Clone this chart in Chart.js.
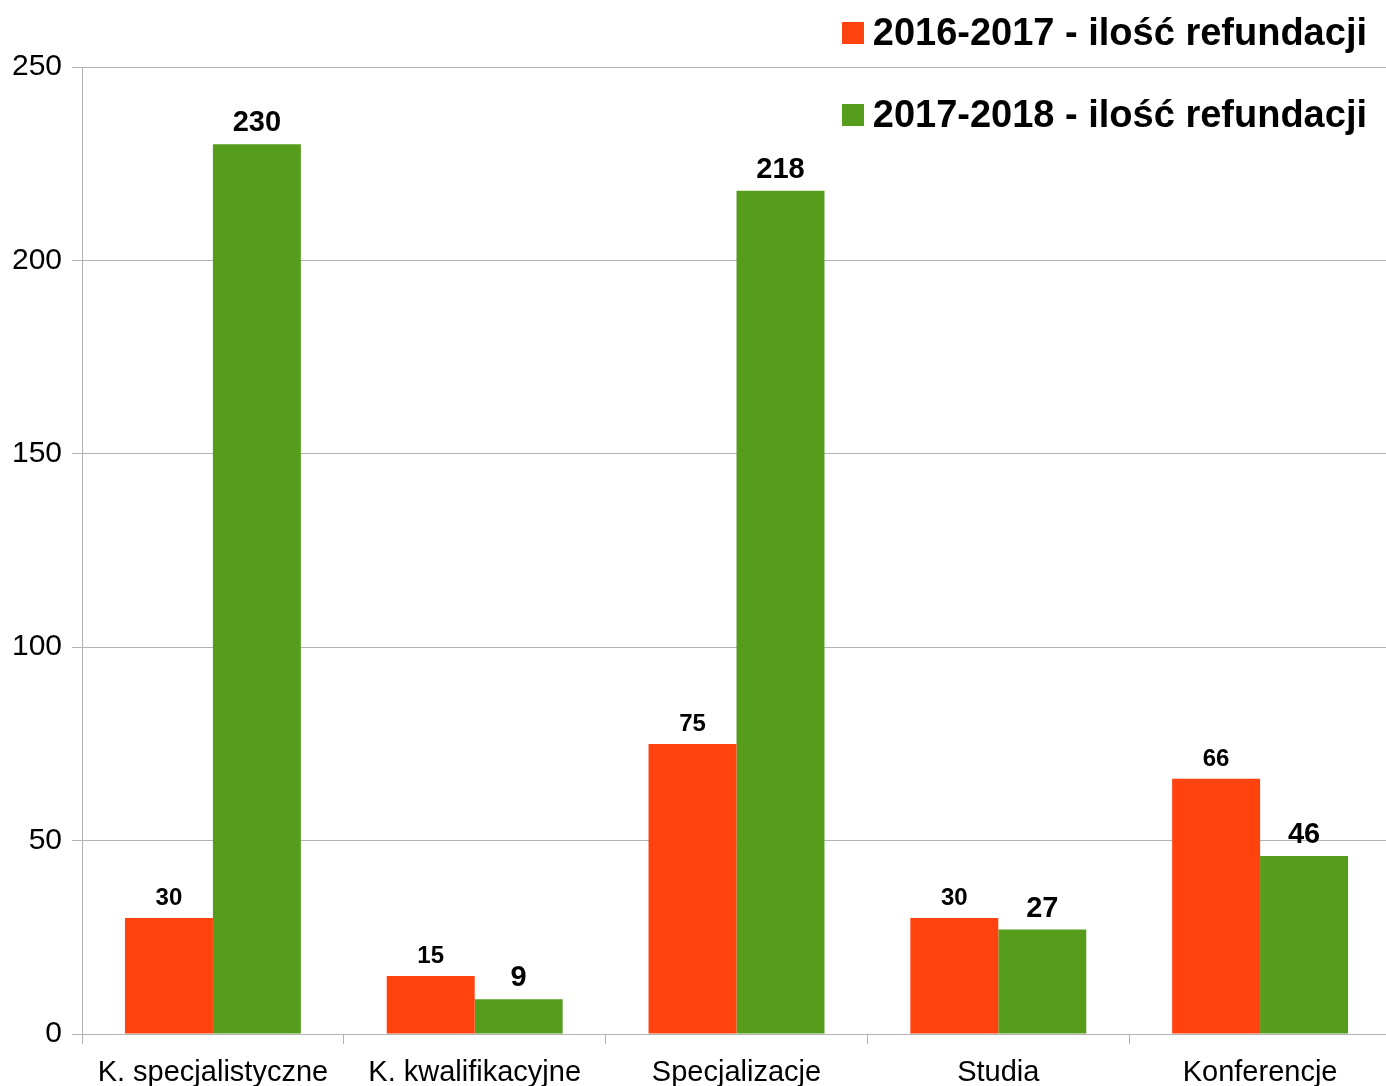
<!DOCTYPE html>
<html>
<head>
<meta charset="utf-8">
<script src="https://cdn.jsdelivr.net/npm/chart.js@4"></script>
<style>
  html, body { margin: 0; padding: 0; background: #fff; overflow: hidden; }
  #wrap { position: relative; width: 1386px; height: 1086px; overflow: hidden; }
  canvas { position: absolute; left: 0; top: 0; }
  .leg { position: absolute; right: 19px; font: bold 38px 'Liberation Sans', Arial, sans-serif; color: #000; white-space: pre; display: flex; align-items: center; }
  .leg i { display: inline-block; width: 22px; height: 22px; margin-right: 9px; }
</style>
</head>
<body>
<div id="wrap">
  <canvas id="c" width="1391" height="1100"></canvas>
  <div class="leg" style="top:11px"><i style="background:#ff420e"></i>2016-2017 - ilość refundacji</div>
  <div class="leg" style="top:93px"><i style="background:#579d1c"></i>2017-2018 - ilość refundacji</div>
</div>
<script>
// ── Data ─────────────────────────────────────────────────
const categories = ['K. specjalistyczne', 'K. kwalifikacyjne', 'Specjalizacje', 'Studia', 'Konferencje'];
const seriesNames = ['2016-2017 - ilość refundacji', '2017-2018 - ilość refundacji'];
const vals2016 = [30, 15, 75, 30, 66];
const vals2017 = [230, 9, 218, 27, 46];
const yTicks = [0, 50, 100, 150, 200, 250];

const RED = '#ff420e', GREEN = '#579d1c', GRID = '#b3b3b3';
const FONT = "'Liberation Sans', Arial, sans-serif";

// ── Value labels above bars ──────────────────────────────
const barLabels = {
  id: 'barLabels',
  afterDatasetsDraw(chart) {
    const ctx = chart.ctx;
    const sizes = [24, 29];
    ctx.save();
    ctx.fillStyle = '#000';
    ctx.textAlign = 'center';
    ctx.textBaseline = 'alphabetic';
    chart.data.datasets.forEach((ds, di) => {
      ctx.font = `bold ${sizes[di]}px ${FONT}`;
      chart.getDatasetMeta(di).data.forEach((bar, i) => {
        ctx.fillText(String(ds.data[i]), bar.x, bar.y - 13);
      });
    });
    ctx.restore();
  }
};

new Chart(document.getElementById('c').getContext('2d'), {
  type: 'bar',
  data: {
    labels: categories,
    datasets: [
      { label: seriesNames[0], data: vals2016, backgroundColor: RED, borderWidth: 0 },
      { label: seriesNames[1], data: vals2017, backgroundColor: GREEN, borderWidth: 0 }
    ]
  },
  options: {
    responsive: false, animation: false, devicePixelRatio: 1,
    layout: { padding: { top: 67, left: 0, right: 0, bottom: 0 } },
    datasets: { bar: { categoryPercentage: 0.672, barPercentage: 1 } },
    plugins: { legend: { display: false }, tooltip: { enabled: false } },
    scales: {
      x: {
        grid: { offset: true, drawOnChartArea: false, color: GRID, tickLength: 10 },
        border: { color: GRID },
        ticks: { color: '#000', font: { family: FONT, size: 29 }, padding: 12, maxRotation: 0 },
        afterFit: s => { s.height = 66; }
      },
      y: {
        min: 0, max: 250,
        afterBuildTicks: s => { s.ticks = yTicks.map(v => ({ value: v })); },
        grid: { color: GRID, tickLength: 10 },
        border: { color: GRID },
        ticks: { color: '#000', font: { family: FONT, size: 30 }, padding: 10 },
        afterFit: s => { s.width = 82; }
      }
    }
  },
  plugins: [barLabels]
});
</script>
</body>
</html>
